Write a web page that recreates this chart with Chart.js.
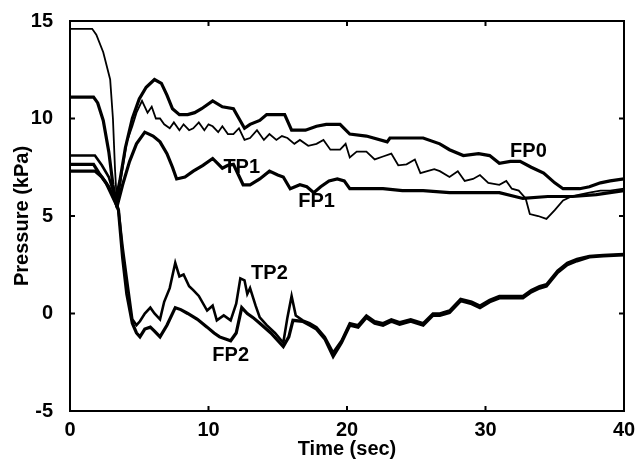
<!DOCTYPE html>
<html>
<head>
<meta charset="utf-8">
<script src="https://cdn.jsdelivr.net/npm/chart.js@4.4.1/dist/chart.umd.min.js"></script>
<style>
  body { margin: 0; background: #fff; }
  canvas { display: block; }
</style>
</head>
<body>
<canvas id="grafico" width="639" height="461"></canvas>
<script>
// time (sec) and pressure (kPa)
const tempoFP0 = [0, 1.7, 2.0, 2.4, 2.8, 3.1, 3.3, 3.6, 4.0, 4.5, 5.0, 5.5, 6.1, 6.6, 7.0, 7.4, 7.9, 8.5, 9.0, 9.5, 10.3, 11.0, 11.8, 12.2, 12.6, 13.0, 13.7, 14.2, 15.0, 15.5, 16.0, 16.5, 17.0, 17.8, 18.5, 19.5, 20.2, 21.4, 22.9, 23.1, 24.5, 25.5, 26.7, 27.4, 28.4, 29.5, 30.3, 31.0, 31.8, 32.5, 33.3, 34.2, 35.0, 35.6, 36.8, 37.5, 38.3, 39.0, 40];
const pressaoFP0 = [11.1, 11.1, 10.8, 9.9, 8.3, 6.6, 5.8, 6.8, 8.5, 10.0, 11.0, 11.6, 12.0, 11.8, 11.2, 10.5, 10.2, 10.2, 10.3, 10.5, 10.9, 10.6, 10.5, 10.0, 9.5, 9.7, 9.9, 10.2, 10.2, 10.2, 9.4, 9.4, 9.4, 9.6, 9.7, 9.7, 9.2, 9.1, 8.8, 9.0, 9.0, 9.0, 8.7, 8.4, 8.1, 8.2, 8.1, 7.7, 7.8, 7.8, 7.5, 7.2, 6.7, 6.4, 6.4, 6.5, 6.7, 6.8, 6.9];

const tempoTP1 = [0, 1.6, 1.9, 2.4, 2.9, 3.1, 3.25, 3.4, 3.7, 4.1, 4.5, 4.8, 5.2, 5.6, 5.9, 6.2, 6.5, 6.8, 7.2, 7.5, 7.9, 8.2, 8.6, 8.9, 9.3, 9.7, 10.0, 10.3, 10.7, 11.0, 11.4, 11.8, 12.2, 12.6, 13.0, 13.5, 14.0, 14.4, 14.9, 15.3, 15.7, 16.2, 16.6, 17.2, 17.8, 18.3, 18.8, 19.5, 19.9, 20.2, 20.7, 21.4, 22.0, 22.6, 23.2, 23.7, 24.3, 24.9, 25.3, 25.8, 26.3, 26.7, 27.4, 28.0, 28.5, 29.1, 29.6, 30.2, 31.0, 31.5, 31.9, 32.4, 32.9, 33.2, 33.8, 34.4, 35.0, 35.6, 36.2, 36.8, 37.5, 38.3, 39.0, 40];
const pressaoTP1 = [14.6, 14.6, 14.3, 13.4, 12.0, 10.0, 7.4, 5.5, 7.0, 8.8, 9.6, 10.3, 10.9, 10.3, 10.6, 10.0, 10.0, 9.7, 9.5, 9.8, 9.4, 9.7, 9.4, 9.5, 9.8, 9.4, 9.7, 9.6, 9.3, 9.6, 9.2, 9.2, 9.5, 8.9, 9.0, 9.4, 8.9, 9.2, 8.9, 9.1, 9.0, 8.7, 8.9, 8.6, 8.7, 8.9, 8.4, 8.4, 8.7, 8.0, 8.3, 8.3, 7.9, 8.05, 8.2, 7.6, 7.65, 7.9, 7.2, 7.3, 7.4, 7.3, 7.0, 7.3, 6.8, 6.9, 7.1, 6.7, 6.6, 6.8, 6.4, 6.3, 5.9, 5.1, 5.0, 4.85, 5.3, 5.8, 6.0, 6.1, 6.2, 6.3, 6.3, 6.4];

const tempoFP1 = [0, 1.7, 2.1, 2.6, 3.0, 3.4, 3.8, 4.3, 4.8, 5.4, 6.0, 6.5, 7.0, 7.4, 7.7, 8.3, 8.9, 9.6, 10.3, 11.0, 11.4, 11.8, 12.5, 13.0, 13.7, 14.4, 15.0, 15.4, 15.9, 16.6, 17.1, 17.6, 18.1, 18.7, 19.3, 19.8, 20.2, 21.0, 22.6, 24.0, 25.5, 27.4, 29.0, 31.0, 32.7, 34.5, 36.3, 38.0, 40];
const pressaoFP1 = [7.65, 7.65, 7.2, 6.7, 6.1, 5.5, 6.6, 7.8, 8.7, 9.3, 9.1, 8.8, 8.2, 7.5, 6.9, 7.0, 7.3, 7.6, 7.95, 7.45, 7.6, 7.65, 6.6, 6.6, 6.9, 7.3, 7.1, 7.0, 6.4, 6.6, 6.5, 6.2, 6.5, 6.8, 6.9, 6.8, 6.4, 6.4, 6.4, 6.3, 6.3, 6.2, 6.2, 6.2, 5.9, 6.0, 6.0, 6.1, 6.3];

const tempoTP2 = [0, 1.8, 2.3, 2.8, 3.2, 3.5, 3.8, 4.1, 4.5, 4.8, 5.05, 5.4, 5.8, 6.1, 6.5, 6.8, 7.2, 7.6, 7.9, 8.2, 8.6, 8.9, 9.3, 9.9, 10.3, 10.6, 11.1, 11.6, 12.0, 12.3, 12.6, 12.8, 13.0, 13.4, 13.7, 14.2, 14.8, 15.4, 15.7, 16.0, 16.3, 16.8, 17.3, 17.8, 18.4, 19.0, 19.6, 20.2, 20.8, 21.4, 22.0, 22.6, 23.2, 23.8, 24.6, 25.5, 26.2, 26.7, 27.4, 28.2, 29.0, 29.6, 30.3, 31.0, 31.8, 32.7, 33.3, 33.9, 34.4, 35.2, 35.9, 36.6, 37.5, 38.5, 40];
const pressaoTP2 = [8.1, 8.1, 7.6, 7.0, 6.1, 5.3, 3.4, 1.8, -0.3, -0.6, -0.4, 0.0, 0.3, 0.0, -0.3, 0.6, 1.3, 2.6, 1.9, 2.0, 1.4, 1.2, 0.9, 0.15, 0.4, -0.35, -0.1, -0.35, 0.5, 1.8, 1.7, 1.0, 1.3, 0.4, -0.2, -0.6, -1.0, -1.5, -0.2, 0.9, -0.1, -0.35, -0.5, -0.7, -1.2, -2.0, -1.4, -0.5, -0.6, -0.1, -0.4, -0.5, -0.3, -0.45, -0.3, -0.5, 0.0, 0.0, 0.15, 0.75, 0.6, 0.4, 0.7, 0.9, 0.9, 0.9, 1.2, 1.4, 1.5, 2.2, 2.6, 2.8, 2.95, 3.0, 3.05];

const tempoFP2 = [0, 1.8, 2.3, 2.8, 3.2, 3.5, 3.8, 4.1, 4.5, 4.8, 5.05, 5.4, 5.8, 6.1, 6.5, 7.0, 7.6, 8.0, 8.5, 9.2, 9.9, 10.4, 10.8, 11.6, 12.0, 12.4, 12.8, 13.2, 13.7, 14.5, 15.4, 15.8, 16.1, 16.8, 17.3, 17.8, 18.4, 19.0, 19.6, 20.2, 20.8, 21.4, 22.0, 22.6, 23.2, 23.8, 24.6, 25.5, 26.2, 26.7, 27.4, 28.2, 29.0, 29.6, 30.3, 31.0, 31.8, 32.7, 33.3, 33.9, 34.4, 35.2, 35.9, 36.6, 37.5, 38.5, 40];
const pressaoFP2 = [7.3, 7.3, 7.0, 6.5, 5.9, 5.3, 2.85, 1.0, -0.5, -1.0, -1.2, -0.8, -0.7, -0.9, -1.2, -0.6, 0.3, 0.2, 0.0, -0.3, -0.7, -1.0, -1.2, -1.4, -1.0, 0.3, 0.0, -0.2, -0.5, -1.0, -1.7, -1.2, -0.35, -0.4, -0.6, -0.8, -1.3, -2.2, -1.5, -0.6, -0.7, -0.2, -0.5, -0.6, -0.4, -0.55, -0.4, -0.6, -0.1, -0.1, 0.05, 0.65, 0.5, 0.3, 0.6, 0.8, 0.8, 0.8, 1.1, 1.3, 1.4, 2.1, 2.5, 2.7, 2.9, 2.95, 3.0];

const ticksX = [0, 10, 20, 30, 40];
const ticksY = [-5, 0, 5, 10, 15];

// curve labels placed at data coordinates
const rotulos = ['FP0', 'TP1', 'FP1', 'TP2', 'FP2'];
const rotuloX = [33.1, 12.4, 17.8, 14.4, 11.6];
const rotuloY = [8.3, 7.5, 5.75, 2.05, -2.15];

function serie(tempo, pressao, largura) {
  return {
    data: tempo.map((t, i) => ({ x: t, y: pressao[i] })),
    borderColor: '#000',
    borderWidth: largura,
    pointRadius: 0,
    tension: 0,
    fill: false
  };
}

const fonte = { family: "'Liberation Sans', Arial, sans-serif", size: 20, weight: 'bold' };

const moldura = {
  id: 'moldura',
  afterDraw(chart) {
    const ctx = chart.ctx;
    const a = chart.chartArea;
    const sx = chart.scales.x, sy = chart.scales.y;
    ctx.save();
    ctx.strokeStyle = '#000';
    ctx.lineWidth = 2;
    ctx.strokeRect(a.left, a.top, a.right - a.left, a.bottom - a.top);
    ctx.beginPath();
    ticksX.slice(1, -1).forEach(v => {
      const px = sx.getPixelForValue(v);
      ctx.moveTo(px, a.bottom); ctx.lineTo(px, a.bottom - 5);
      ctx.moveTo(px, a.top); ctx.lineTo(px, a.top + 5);
    });
    ticksY.slice(1, -1).forEach(v => {
      const py = sy.getPixelForValue(v);
      ctx.moveTo(a.left, py); ctx.lineTo(a.left + 5, py);
      ctx.moveTo(a.right, py); ctx.lineTo(a.right - 5, py);
    });
    ctx.stroke();
    ctx.fillStyle = '#000';
    ctx.font = 'bold 20px "Liberation Sans", Arial, sans-serif';
    ctx.textAlign = 'center';
    ctx.textBaseline = 'middle';
    rotulos.forEach((r, i) => {
      ctx.fillText(r, sx.getPixelForValue(rotuloX[i]), sy.getPixelForValue(rotuloY[i]));
    });
    ctx.restore();
  }
};

new Chart(document.getElementById('grafico'), {
  type: 'line',
  data: {
    datasets: [
      serie(tempoFP0, pressaoFP0, 3.2),
      serie(tempoTP1, pressaoTP1, 1.8),
      serie(tempoFP1, pressaoFP1, 3.2),
      serie(tempoTP2, pressaoTP2, 2.6),
      serie(tempoFP2, pressaoFP2, 3.2)
    ]
  },
  options: {
    responsive: false,
    animation: false,
    layout: { padding: { left: 0, right: 15, top: 19, bottom: 0 } },
    plugins: { legend: { display: false }, tooltip: { enabled: false } },
    scales: {
      x: {
        type: 'linear',
        min: 0, max: 40,
        afterBuildTicks: s => { s.ticks = ticksX.map(v => ({ value: v })); },
        afterFit: s => { s.height = 50; },
        grid: { display: false },
        border: { display: false },
        ticks: { color: '#000', font: fonte, padding: -1, maxRotation: 0 },
        title: { display: true, text: 'Time (sec)', color: '#000', font: fonte, padding: 0 }
      },
      y: {
        min: -5, max: 15,
        afterBuildTicks: s => { s.ticks = ticksY.map(v => ({ value: v })); },
        afterFit: s => { s.width = 70; },
        grid: { display: false },
        border: { display: false },
        ticks: { color: '#000', font: fonte, padding: 9 },
        title: { display: true, text: 'Pressure (kPa)', color: '#000', font: fonte, padding: 10 }
      }
    }
  },
  plugins: [moldura]
});
</script>
</body>
</html>
